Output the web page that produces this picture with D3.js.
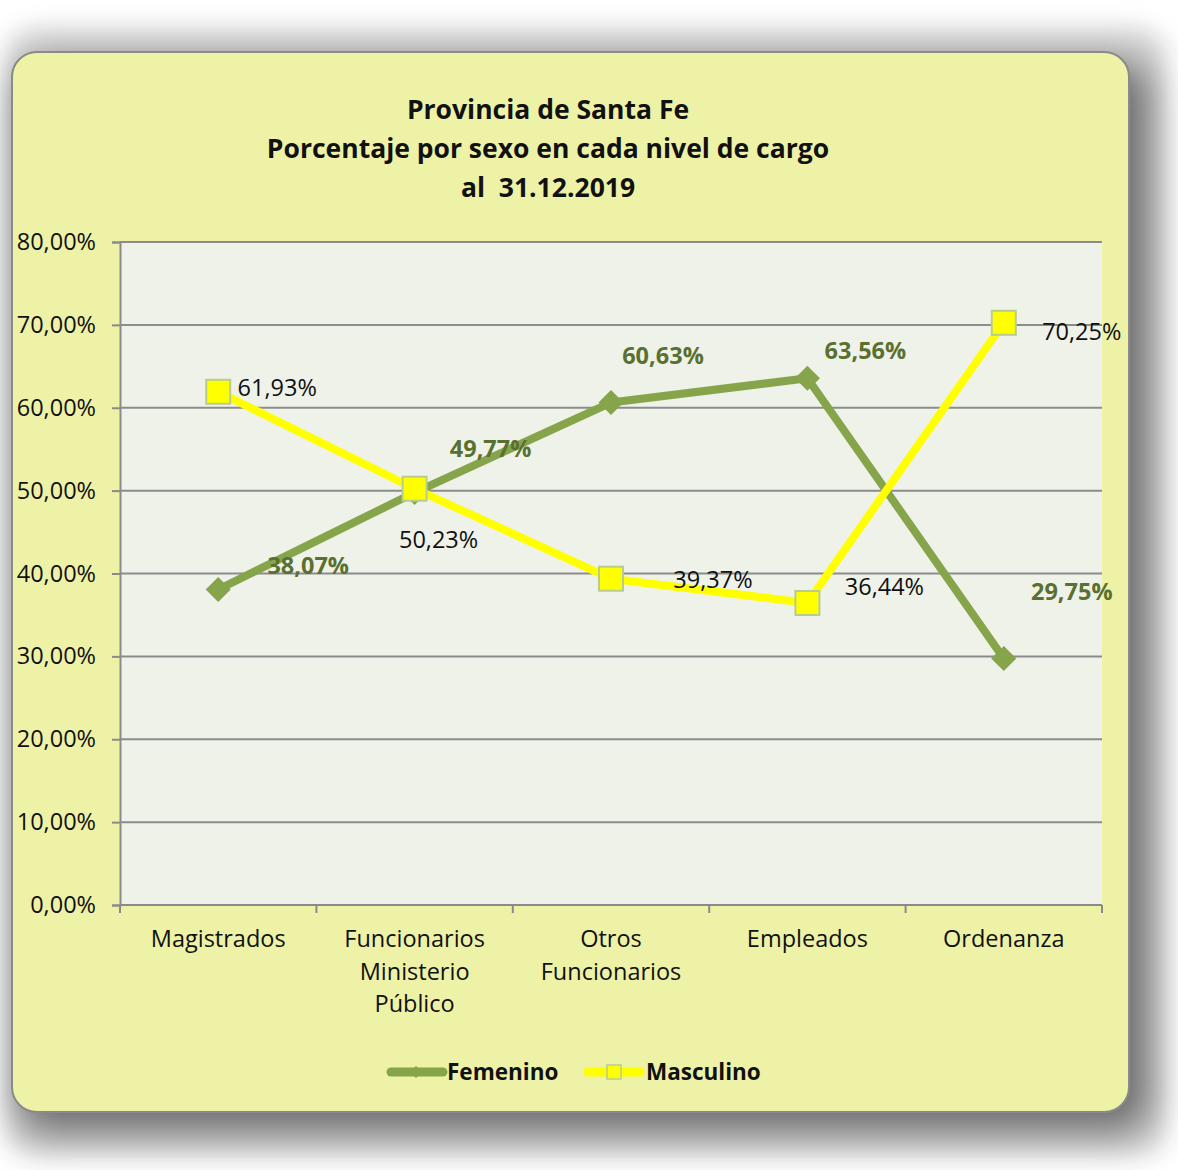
<!DOCTYPE html>
<html>
<head>
<meta charset="utf-8">
<script src="https://cdn.jsdelivr.net/npm/d3@7"></script>
<style>
	body { margin: 0; background: #fff; }
	text { font-family: "Open Sans", sans-serif; }
</style>
</head>
<body>
<div id="chart"></div>
<script>
'use strict';

// data
const categories = [
	["Magistrados"],
	["Funcionarios", "Ministerio", "Público"],
	["Otros", "Funcionarios"],
	["Empleados"],
	["Ordenanza"]
];
const femenino = [38.07, 49.77, 60.63, 63.56, 29.75];
const masculino = [61.93, 50.23, 39.37, 36.44, 70.25];
const yTicks = [0, 10, 20, 30, 40, 50, 60, 70, 80];
const titleLines = ["Provincia de Santa Fe", "Porcentaje por sexo en cada nivel de cargo", "al  31.12.2019"];

// hand placed label offsets (like the excel original)
const femOffsets = [[90, -24], [76, -44], [52, -47], [58, -27], [68, -67]];
const mascOffsets = [[59, -4], [24, 51], [102, 1], [77, -16], [78, 9]];

const W = 1178, H = 1170;
const plot = { left: 120, right: 1102, top: 242, bottom: 905 };
const fmt = v => d3.format(".2f")(v).replace(".", ",") + "%";
const fs = 23.5;

const svg = d3.select("#chart").append("svg")
	.attr("width", W)
	.attr("height", H);

const defs = svg.append("defs");
const f = defs.append("filter").attr("id", "shadow")
	.attr("filterUnits", "userSpaceOnUse")
	.attr("x", 0).attr("y", 0).attr("width", W).attr("height", H);
f.append("feGaussianBlur").attr("stdDeviation", 19);
const f2 = defs.append("filter").attr("id", "halo")
	.attr("filterUnits", "userSpaceOnUse")
	.attr("x", 0).attr("y", 0).attr("width", W).attr("height", H);
f2.append("feGaussianBlur").attr("stdDeviation", 12);

// card shadow (faint halo + offset shadow) + card
svg.append("rect")
	.attr("x", 6).attr("y", 28)
	.attr("width", 1160).attr("height", 1128)
	.attr("rx", 30)
	.attr("fill", "#d6d6d6")
	.attr("filter", "url(#halo)");

svg.append("rect")
	.attr("x", 18).attr("y", 62)
	.attr("width", 1131).attr("height", 1070)
	.attr("rx", 26)
	.attr("fill", "#6a6a6a")
	.attr("filter", "url(#shadow)");

svg.append("rect")
	.attr("x", 12).attr("y", 52)
	.attr("width", 1117).attr("height", 1060)
	.attr("rx", 25)
	.attr("fill", "#edf2a7")
	.attr("stroke", "#8a8a8a")
	.attr("stroke-width", 2);

// title
svg.append("g").selectAll("text")
	.data(titleLines)
	.join("text")
		.attr("x", 548)
		.attr("y", (d, i) => 119 + i * 39)
		.attr("text-anchor", "middle")
		.attr("font-weight", "bold")
		.attr("font-size", 26.5)
		.attr("fill", "#111")
		.style("white-space", "pre")
		.text(d => d);

// scales
const x = d3.scaleBand()
	.domain(d3.range(categories.length))
	.range([plot.left, plot.right]);
const y = d3.scaleLinear()
	.domain([0, 80])
	.range([plot.bottom, plot.top]);
const cx = i => x(i) + x.bandwidth() / 2;

svg.append("rect")
	.attr("x", plot.left).attr("y", plot.top)
	.attr("width", plot.right - plot.left)
	.attr("height", plot.bottom - plot.top)
	.attr("fill", "#eff2e9");

// gridlines
svg.append("g").selectAll("line")
	.data(yTicks.filter(d => d > 0))
	.join("line")
		.attr("x1", plot.left).attr("x2", plot.right)
		.attr("y1", d => y(d)).attr("y2", d => y(d))
		.attr("stroke", "#8c8c8c")
		.attr("stroke-width", 2);

// y axis
const yAxis = svg.append("g")
	.attr("transform", `translate(${plot.left},0)`)
	.call(d3.axisLeft(y).tickValues(yTicks).tickFormat(fmt).tickSize(8).tickPadding(16));
yAxis.select(".domain").attr("stroke", "#8a8a8a").attr("stroke-width", 2);
yAxis.selectAll(".tick line").attr("stroke", "#8a8a8a").attr("stroke-width", 2);
yAxis.selectAll(".tick text")
	.attr("font-family", "Open Sans")
	.attr("font-size", fs)
	.attr("fill", "#111");

// x axis (ticks on category boundaries)
const xb = svg.append("g");
xb.append("line")
	.attr("x1", plot.left).attr("x2", plot.right)
	.attr("y1", plot.bottom).attr("y2", plot.bottom)
	.attr("stroke", "#8a8a8a").attr("stroke-width", 2);
xb.selectAll("line.tk")
	.data(d3.range(categories.length + 1))
	.join("line")
		.attr("class", "tk")
		.attr("x1", i => i < categories.length ? x(i) : plot.right)
		.attr("x2", i => i < categories.length ? x(i) : plot.right)
		.attr("y1", plot.bottom).attr("y2", plot.bottom + 8)
		.attr("stroke", "#8a8a8a").attr("stroke-width", 2);
const xl = xb.selectAll("text")
	.data(categories)
	.join("text")
		.attr("x", (d, i) => cx(i))
		.attr("y", 947)
		.attr("text-anchor", "middle")
		.attr("font-size", fs)
		.attr("fill", "#111");
xl.selectAll("tspan")
	.data(d => d)
	.join("tspan")
		.attr("x", function() { return this.parentNode.getAttribute("x"); })
		.attr("dy", (d, i) => i === 0 ? 0 : 32.5)
		.text(d => d);

// lines
const line = d3.line()
	.x((d, i) => cx(i))
	.y(d => y(d));

const green = "#86a44a", yellow = "#ffff00";

svg.append("path")
	.datum(femenino)
	.attr("d", line)
	.attr("fill", "none")
	.attr("stroke", green)
	.attr("stroke-width", 8)
	.attr("stroke-linejoin", "round");

svg.append("g").selectAll("path")
	.data(femenino)
	.join("path")
		.attr("d", d3.symbol(d3.symbolDiamond2, 400)())
		.attr("transform", (d, i) => `translate(${cx(i)},${y(d)})`)
		.attr("fill", green);

svg.append("path")
	.datum(masculino)
	.attr("d", line)
	.attr("fill", "none")
	.attr("stroke", yellow)
	.attr("stroke-width", 8)
	.attr("stroke-linejoin", "round");

svg.append("g").selectAll("rect")
	.data(masculino)
	.join("rect")
		.attr("x", (d, i) => cx(i) - 12)
		.attr("y", d => y(d) - 12)
		.attr("width", 24).attr("height", 24)
		.attr("fill", yellow)
		.attr("stroke", "#b6cd8f")
		.attr("stroke-width", 2);

// data labels
svg.append("g").selectAll("text")
	.data(femenino)
	.join("text")
		.attr("x", (d, i) => cx(i) + femOffsets[i][0])
		.attr("y", (d, i) => y(d) + femOffsets[i][1])
		.attr("dy", "0.35em")
		.attr("text-anchor", "middle")
		.attr("font-weight", "bold")
		.attr("font-size", fs)
		.attr("fill", "#5a7030")
		.text(fmt);

svg.append("g").selectAll("text")
	.data(masculino)
	.join("text")
		.attr("x", (d, i) => cx(i) + mascOffsets[i][0])
		.attr("y", (d, i) => y(d) + mascOffsets[i][1])
		.attr("dy", "0.35em")
		.attr("text-anchor", "middle")
		.attr("font-size", fs)
		.attr("fill", "#111")
		.text(fmt);

// legend
const legend = svg.append("g").attr("transform", "translate(0,1072)");
const lf = legend.append("g");
lf.append("line")
	.attr("x1", 391).attr("x2", 443).attr("y1", 0).attr("y2", 0)
	.attr("stroke", green).attr("stroke-width", 9).attr("stroke-linecap", "round");
lf.append("path")
	.attr("d", d3.symbol(d3.symbolDiamond2, 90)())
	.attr("transform", "translate(416,0)")
	.attr("fill", green);
lf.append("text")
	.attr("x", 447).attr("y", 0).attr("dy", "0.35em")
	.attr("font-weight", "bold").attr("font-size", 22.5).attr("fill", "#111")
	.text("Femenino");

const lm = legend.append("g");
lm.append("line")
	.attr("x1", 588).attr("x2", 640).attr("y1", 0).attr("y2", 0)
	.attr("stroke", yellow).attr("stroke-width", 9).attr("stroke-linecap", "round");
lm.append("rect")
	.attr("x", 607).attr("y", -7).attr("width", 14).attr("height", 14)
	.attr("fill", yellow).attr("stroke", "#b6cd8f").attr("stroke-width", 1.5);
lm.append("text")
	.attr("x", 646).attr("y", 0).attr("dy", "0.35em")
	.attr("font-weight", "bold").attr("font-size", 22.5).attr("fill", "#111")
	.text("Masculino");
</script>
</body>
</html>
